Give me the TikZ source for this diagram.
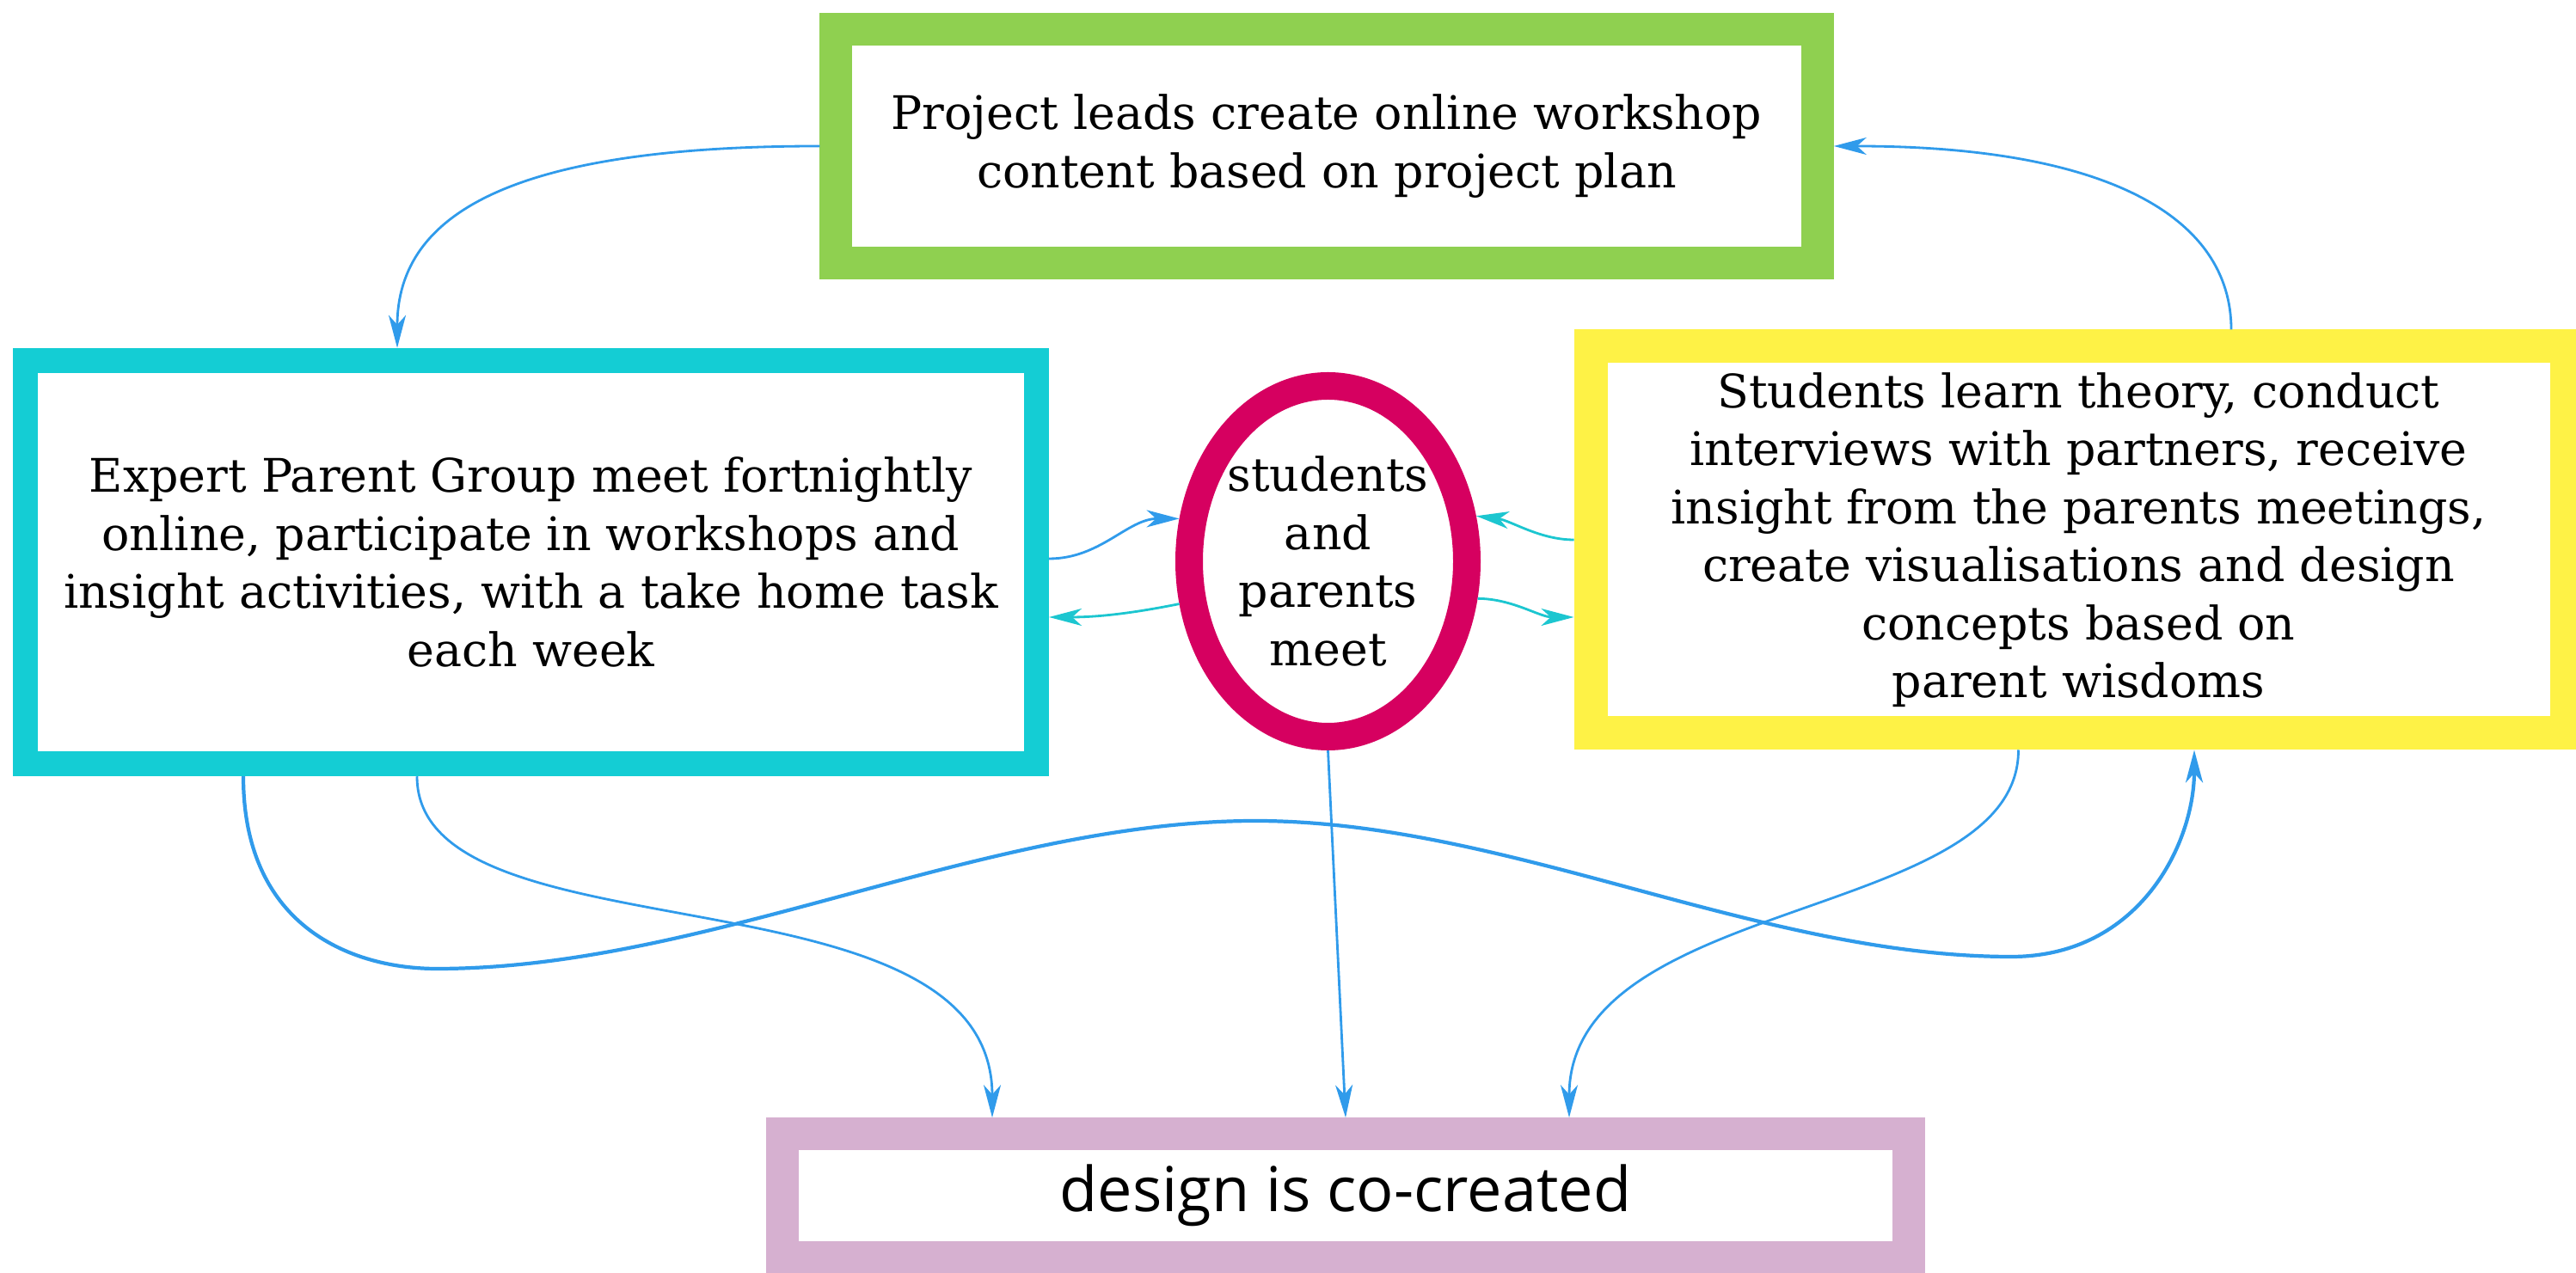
\documentclass[tikz,border=0pt]{standalone}
\usepackage{fontspec}
\usepackage{xcolor}
\usetikzlibrary{shapes.geometric, arrows.meta, positioning, calc}

\newfontfamily\slabfont{DejaVu Serif}
\newfontfamily\sansfont{Open Sans}

\definecolor{leadgreen}{RGB}{143,208,80}
\definecolor{epgcyan}{RGB}{20,205,212}
\definecolor{meetpink}{RGB}{214,0,96}
\definecolor{studyellow}{RGB}{254,242,70}
\definecolor{copurple}{RGB}{214,176,208}
\definecolor{linkblue}{RGB}{48,155,235}
\definecolor{linkteal}{RGB}{28,198,208}

\tikzset{
	stagebox/.style={draw, rectangle, fill=white, align=center, inner sep=0pt,
		font=\slabfont\fontsize{15.3}{19.2}\selectfont},
	link/.style={draw=linkblue, line width=0.8pt, -{Stealth[length=3.8mm, width=2mm, inset=1.1mm]}},
	tlink/.style={link, draw=linkteal}
}

\begin{document}
\begin{tikzpicture}
		\useasboundingbox (0,0) rectangle (29.96,14.81);
		
		\node[stagebox, draw=leadgreen, line width=0.38cm, minimum width=11.415cm, minimum height=2.715cm] (lead) at (15.43,13.11)
			{Project leads create online workshop\\content based on project plan};
		\node[stagebox, draw=epgcyan, line width=0.29cm, minimum width=11.76cm, minimum height=4.695cm] (epg) at (6.175,8.27)
			{Expert Parent Group meet fortnightly\\online, participate in workshops and\\insight activities, with a take home task\\each week};
		\node[stagebox, ellipse, draw=meetpink, line width=0.32cm, minimum width=3.23cm, minimum height=4.08cm, inner sep=-5mm] (meet) at (15.445,8.28)
			{students\\and\\parents\\meet};
		\node[stagebox, draw=studyellow, line width=0.39cm, minimum width=11.35cm, minimum height=4.5cm] (stud) at (24.175,8.53)
			{Students learn theory, conduct\\interviews with partners, receive\\insight from the parents meetings,\\create visualisations and design\\concepts based on\\parent wisdoms};
		\node[stagebox, draw=copurple, line width=0.38cm, minimum width=13.1cm, minimum height=1.435cm,
			font=\sansfont\fontsize{20.5}{24}\selectfont] (co) at (15.65,0.9) {design is co-created};
		
		% top loop
		\draw[link] (lead.west) .. controls +(-3.5,0) and +(0,1.6) .. ([xshift=-1.555cm]epg.north);
		\draw[link] ([xshift=1.775cm]stud.north) .. controls +(0,1.3) and +(3.2,0) .. (lead.east);
		
		% meeting in the middle
		\draw[link] ([yshift=0.04cm]epg.east) .. controls +(0.6,0) and +(-0.6,0) .. (meet.164);
		\draw[tlink] (meet.196) .. controls +(-0.5,-0.1) and +(0.6,0) .. ([yshift=-0.64cm]epg.east);
		\draw[tlink] (stud.west) .. controls +(-0.4,0) and +(0.4,-0.05) .. (meet.17);
		\draw[tlink] (meet.346) .. controls +(0.4,0) and +(-0.4,0) .. ([yshift=-0.9cm]stud.west);
		
		% long crossing curve
		\coordinate (dipL) at (5.08,3.54);
		\coordinate (peak) at (14.6,5.26);
		\coordinate (dipR) at (23.39,3.68);
		\draw[link, line width=1.2pt] ([xshift=-3.345cm]epg.south) .. controls +(0,-1.78) and +(-0.95,0) .. (dipL)
			.. controls +(3.15,0) and +(-3.15,0) .. (peak)
			.. controls +(2.93,0) and +(-2.93,0) .. (dipR)
			.. controls +(1.5,0) and +(0,-1.08) .. ([xshift=1.345cm]stud.south);
		
		% into the outcome
		\draw[link] ([xshift=-1.325cm]epg.south) .. controls +(0,-2.18) and +(0,3.0) .. ([xshift=-4.11cm]co.north);
		\draw[link] (meet.south) -- (co.north);
		\draw[link] ([xshift=-0.7cm]stud.south) .. controls +(0,-2.0) and +(0,2.6) .. ([xshift=2.6cm]co.north);
	  \end{tikzpicture}
\end{document}
